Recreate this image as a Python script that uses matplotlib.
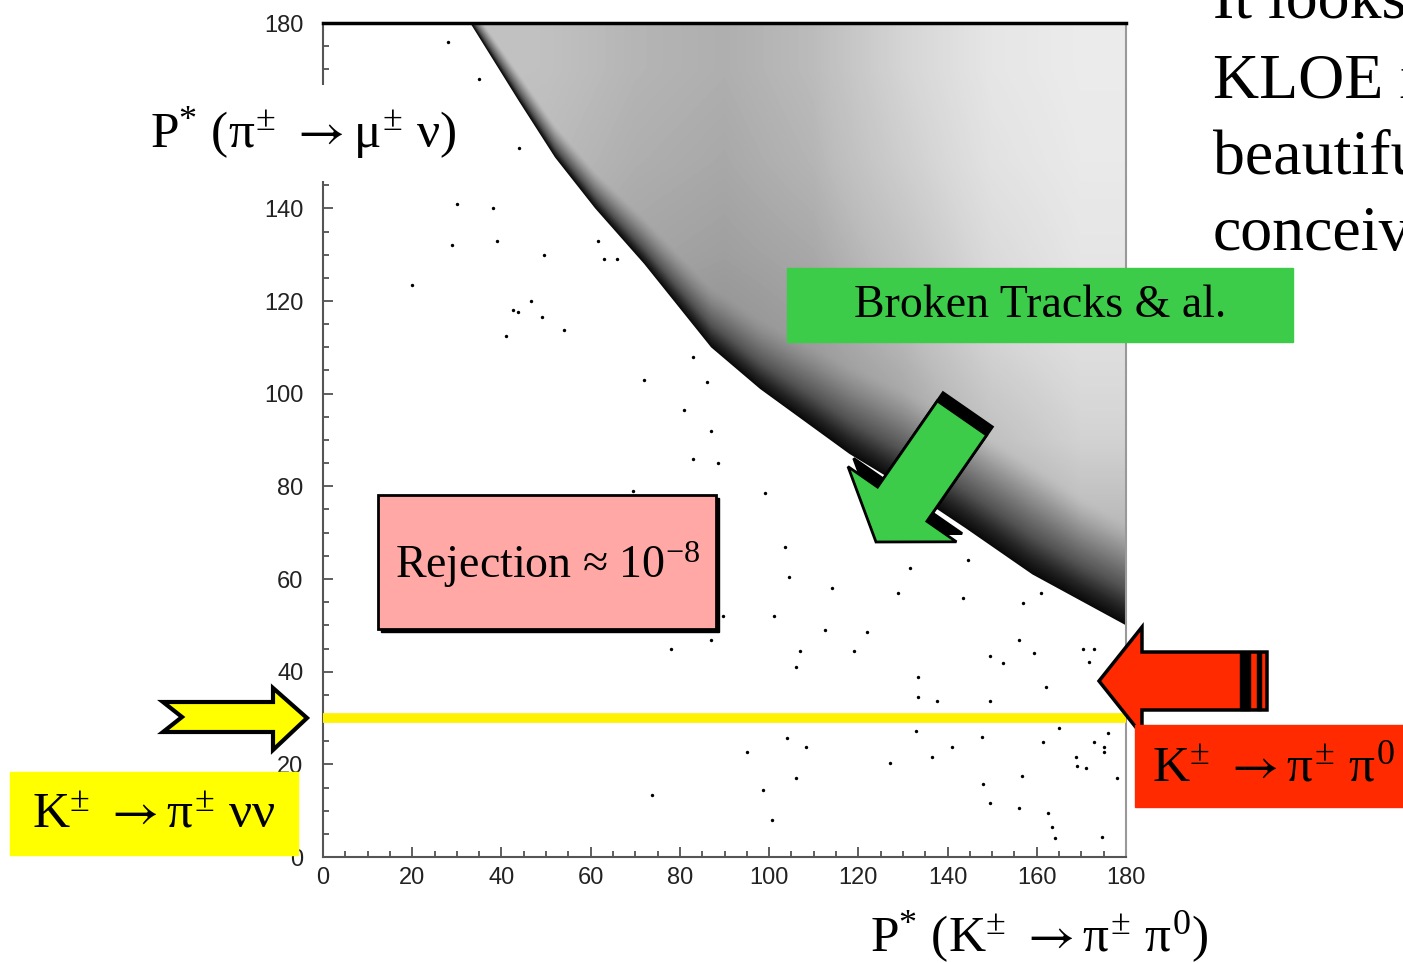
import numpy as np
import matplotlib.pyplot as plt
from matplotlib.patches import Polygon, Rectangle

# Serif, Times-like text for the slide labels
plt.rcParams['mathtext.fontset'] = 'custom'
plt.rcParams['mathtext.rm'] = 'Liberation Serif'
plt.rcParams['mathtext.it'] = 'Liberation Serif'
plt.rcParams['mathtext.bf'] = 'Liberation Serif:bold'
plt.rcParams['mathtext.sf'] = 'STIXGeneral'
plt.rcParams['mathtext.fallback'] = 'stix'

# lower edge of the dense "broken tracks" region (P*K, P*pi)
edge_x = [33, 44, 52, 61, 72, 87, 98, 108, 118, 130, 144, 159, 180]
edge_y = [180, 163, 151, 140, 128, 110, 101, 94, 87, 80, 71, 61, 50]
# thickness of the dark band just above that edge
band_w = [4, 6, 7, 8, 10, 13, 15, 17, 19, 21, 23, 24, 22]

# coarse density (0 = empty, 1 = black) of the populated region, cell centres
density_x = [10, 30, 50, 70, 90, 110, 130, 150, 170]
density_y = [170, 150, 130, 110, 90, 70, 50, 30, 10]
density = [
    [0.35, 0.35, 0.36, 0.40, 0.42, 0.38, 0.27, 0.18, 0.15],
    [0.38, 0.38, 0.38, 0.42, 0.44, 0.40, 0.30, 0.20, 0.16],
    [0.42, 0.42, 0.42, 0.45, 0.47, 0.44, 0.35, 0.24, 0.18],
    [0.46, 0.46, 0.46, 0.50, 0.52, 0.48, 0.40, 0.28, 0.22],
    [0.50, 0.50, 0.50, 0.52, 0.56, 0.56, 0.48, 0.36, 0.28],
    [0.55, 0.55, 0.55, 0.55, 0.58, 0.60, 0.60, 0.52, 0.40],
    [0.60, 0.60, 0.60, 0.60, 0.60, 0.62, 0.65, 0.65, 0.55],
    [0.60, 0.60, 0.60, 0.60, 0.60, 0.60, 0.60, 0.60, 0.60],
    [0.60, 0.60, 0.60, 0.60, 0.60, 0.60, 0.60, 0.60, 0.60],
]

# isolated events below the band
outlier_x = [30, 38, 29, 39, 20, 49.5, 46.6, 42.6, 43.7, 49, 54, 41, 72, 81, 87, 83,
             88.6, 69.5, 66, 63, 61.6, 86, 83, 99, 103.6, 106, 95, 106, 98.7, 100.6,
             107, 112.6, 101, 104.5, 114, 122, 119, 129, 131.6, 143.5, 144.6, 149.6,
             152.5, 149.6, 133.4, 133.4, 137.6, 165, 161.4, 172.9, 175, 175, 171.7,
             170.4, 172.9, 149.6, 156, 164, 163.5, 162.6, 127, 136.6, 141, 148, 156.7,
             169, 171, 178, 174.6, 157, 161, 156, 162, 159.4, 108.3, 104, 133, 147.8,
             168.8, 176, 73.7, 78, 87, 89.7, 28, 35, 44]
outlier_y = [141, 140, 132, 133, 123.5, 130, 120, 118, 117.6, 116.6, 113.7, 112.5, 103,
             96.5, 92, 86, 85, 79, 129, 129, 133, 102.5, 108, 78.5, 67, 41, 22.6, 17,
             14.4, 8, 44.5, 49, 52, 60.5, 58, 48.5, 44.5, 57, 62.4, 56, 64, 43.4, 41.8,
             33.7, 38.8, 34.6, 33.7, 27.8, 24.8, 24.8, 23.7, 22.6, 42, 45, 45, 11.7,
             10.5, 4.1, 6.5, 9.4, 20.3, 21.6, 23.8, 15.8, 17.5, 19.6, 19.2, 17, 4.3,
             54.8, 57, 46.8, 36.7, 44, 23.8, 25.6, 27.2, 26, 21.6, 26.8, 13.4, 45, 46.8,
             52, 176, 168, 153]

cut_value = 30
ticks = [0, 20, 40, 60, 80, 100, 120, 140, 160, 180]
y_tick_labels = ['0', '20', '40', '60', '80', '100', '120', '140', '', '180']  # 160 hidden by the label

W, H = 1403, 963
fig = plt.figure(figsize=(W / 100, H / 100), dpi=100)
ax = fig.add_axes([323 / W, 1 - 857 / H, (1126 - 323) / W, (857 - 23) / H])

# fine map: grid density (bilinear) darkened towards the lower edge of the region
xs = np.linspace(0, 180, 721)
ys = np.linspace(0, 180, 721)
grid = np.array(density)[::-1]          # rows from low to high P*pi
gy = density_y[::-1]
rows = np.array([np.interp(xs, density_x, r) for r in grid])
base = np.array([np.interp(ys, gy, rows[:, j]) for j in range(len(xs))]).T
edge_at = np.interp(xs, edge_x, edge_y)
w_at = np.interp(xs, edge_x, band_w)
d = ys[:, None] - edge_at[None, :]
band = np.clip(1 - d / w_at[None, :], 0, 1) ** 1.4
band[d < 0] = 1
shade = base + (0.97 - base) * band

im = ax.imshow(shade, cmap='Greys', vmin=0, vmax=1, extent=(0, 180, 0, 180),
               origin='lower', interpolation='bilinear', aspect='auto', zorder=1)
region = Polygon(list(zip(edge_x, edge_y)) + [(180, 180)], closed=True,
                 transform=ax.transData)
im.set_clip_path(region)

ax.scatter(outlier_x, outlier_y, s=6, c='black', linewidths=0, zorder=3)
ax.axhline(cut_value, color='#fff200', lw=7, zorder=4)

ax.set_xlim(0, 180)
ax.set_ylim(0, 180)
ax.set_xticks(ticks)
ax.set_yticks(ticks, y_tick_labels)
ax.set_xticks(np.arange(0, 181, 5), minor=True)
ax.set_yticks(np.arange(0, 181, 5), minor=True)
ax.tick_params(which='both', direction='in', color='#444444', width=1.2)
ax.tick_params(which='major', length=7)
ax.tick_params(which='minor', length=4)
ax.tick_params(axis='y', pad=14)
ax.tick_params(axis='x', pad=7)
for lab in ax.get_xticklabels() + ax.get_yticklabels():
    lab.set_fontfamily('Liberation Sans')
    lab.set_fontsize(17)
    lab.set_color('#222222')
ax.spines['top'].set_linewidth(2.5)
ax.spines['top'].set_color('black')
ax.spines['right'].set_color('#999999')
ax.spines['right'].set_linewidth(1.5)
for s in ['left', 'bottom']:
    ax.spines[s].set_color('#555555')
    ax.spines[s].set_linewidth(1.5)

arrow = r'{\mathsf{\rightarrow}}'
ax.set_xlabel(r'P$^{*}$ (K$^{\pm}$ $' + arrow + r'\pi^{\pm}$ $\pi^{0}$)',
              fontfamily='Liberation Serif', fontsize=37, va='center')
ax.xaxis.set_label_coords((1039 - 323) / 803, -(937 - 857) / 834)

# overlay in pixel units for the slide decorations
ov = fig.add_axes([0, 0, 1, 1], zorder=5)
ov.set_xlim(0, W)
ov.set_ylim(H, 0)
ov.axis('off')
ov.patch.set_visible(False)

ov.text(303, 133, r'P$^{*}$ ($\pi^{\pm}$ $' + arrow + r'\mu^{\pm}$ $\nu$)',
        fontfamily='Liberation Serif', fontsize=37, ha='center', va='center',
        bbox=dict(facecolor='white', edgecolor='none', pad=14))


def block_arrow(tail, tip, shaft_half, head_half, head_len):
    tail = np.array(tail, float)
    tip = np.array(tip, float)
    u = (tip - tail) / np.linalg.norm(tip - tail)
    v = np.array([-u[1], u[0]])
    base = tip - head_len * u
    pts = [tail + shaft_half * v, base + shaft_half * v, base + head_half * v, tip,
           base - head_half * v, base - shaft_half * v, tail - shaft_half * v]
    return np.array(pts), u


# green arrow onto the band
pts, u = block_arrow((962, 418), (876, 542), 30, 66, 46)
ov.add_patch(Polygon(pts - 10 * u, closed=True, facecolor='black', edgecolor='black', lw=2))
ov.add_patch(Polygon(pts, closed=True, facecolor='#3dcc4a', edgecolor='black', lw=2))

# red arrow pointing at the K -> pi pi0 peak
pts, u = block_arrow((1267, 681), (1099, 681), 29, 54, 43)
ov.add_patch(Polygon(pts, closed=True, facecolor='#ff2a00', edgecolor='black', lw=2.5))
ov.add_patch(Rectangle((1240, 652), 10, 58, color='black'))
ov.add_patch(Rectangle((1257, 652), 4, 58, color='black'))

# yellow arrow marking the signal cut
ov.add_patch(Polygon([(163, 702), (273, 702), (273, 688), (307, 718), (273, 750),
                      (273, 732), (163, 732), (182, 717)], closed=True,
                     facecolor='#ffff00', edgecolor='black', lw=3))

# label boxes
ov.add_patch(Rectangle((10, 772), 288, 83, color='#ffff00'))
ov.text(154, 815, r'K$^{\pm}$ $' + arrow + r'\pi^{\pm}$ $\nu\nu$',
        fontfamily='Liberation Serif', fontsize=37, ha='center', va='center')

ov.add_patch(Rectangle((1135, 725), 268, 82, color='#ff2a00'))
ov.text(1273, 768, r'K$^{\pm}$ $' + arrow + r'\pi^{\pm}$ $\pi^{0}$',
        fontfamily='Liberation Serif', fontsize=37, ha='center', va='center')

ov.add_patch(Rectangle((787, 268), 506, 74, color='#3dcc4a'))
ov.text(1040, 306, 'Broken Tracks & al.', fontfamily='Liberation Serif',
        fontsize=33, ha='center', va='center')

ov.add_patch(Rectangle((381, 498), 338, 134, color='black'))
ov.add_patch(Rectangle((378, 495), 338, 134, facecolor='#ffa8a5', edgecolor='black', lw=2))
ov.text(548, 565, 'Rejection \u2248 10$^{-8}$', fontfamily='Liberation Serif',
        fontsize=33, ha='center', va='center')

# slide text running off the right edge
for yb, line in zip([18, 97, 173, 250], ['It looks like', 'KLOE is', 'beautiful', 'conceivable']):
    ov.text(1213, yb, line, fontfamily='Liberation Serif', fontsize=46, va='baseline')

fig.savefig('out.png', dpi=100)
